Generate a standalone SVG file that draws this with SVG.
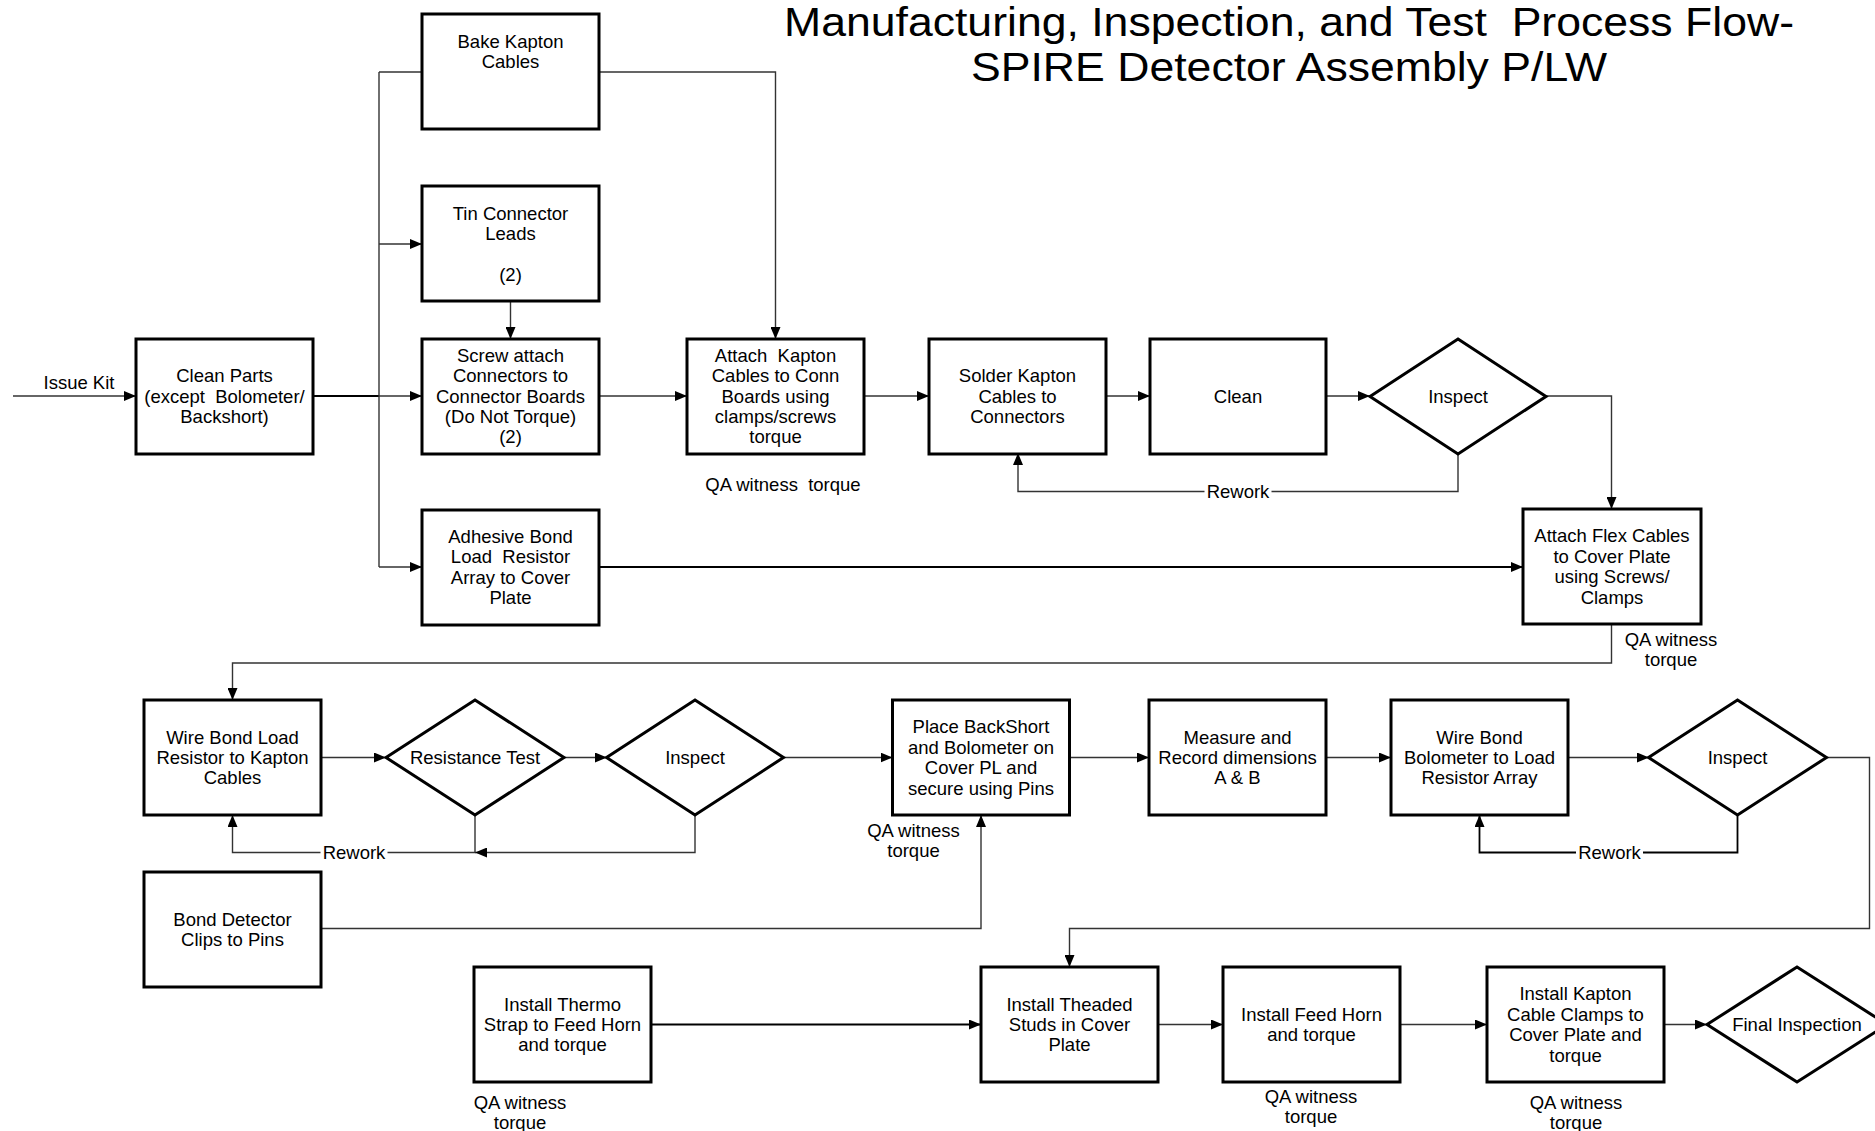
<svg xmlns="http://www.w3.org/2000/svg" width="1875" height="1131" viewBox="0 0 1875 1131">
  <style>
    text { font-family: "Liberation Sans", Arial, sans-serif; fill: #000; }
    .lbl { font-size: 18.5px; text-anchor: middle; }
    .ttl { font-size: 40px; text-anchor: middle; }
    .box { fill: #fff; stroke: #000; stroke-width: 3; }
    .dec { fill: #fff; stroke: #000; stroke-width: 3; stroke-linejoin: miter; }
    .cn { fill: none; stroke: #333; stroke-width: 1.4; }
    .cnd { fill: none; stroke: #000; stroke-width: 1.8; }
    .arr { marker-end: url(#ah); }
    .gap { fill: #fff; }
  </style>
  <defs>
    <marker id="ah" viewBox="0 0 12 10" refX="12" refY="5" markerWidth="12" markerHeight="10" markerUnits="userSpaceOnUse" orient="auto">
      <path d="M0,0 L12,5 L0,10 z" fill="#000"/>
    </marker>
  </defs>
  <rect width="1875" height="1131" fill="#fff"/>

  <!-- Title -->
  <g id="title">
    <text class="ttl" x="1289" y="36" textLength="1010" lengthAdjust="spacingAndGlyphs">Manufacturing, Inspection, and Test&#160; Process Flow-</text>
    <text class="ttl" x="1289" y="81" textLength="636" lengthAdjust="spacingAndGlyphs">SPIRE Detector Assembly P/LW</text>
  </g>

  <!-- Connectors -->
  <g id="connectors">
    <!-- Issue kit into cleaning -->
    <path class="cn arr" d="M13,396 H136"/>
    <text class="lbl" x="79" y="389">Issue Kit</text>
    <!-- Clean parts fan-out -->
    <path class="cnd" d="M313,396 H379"/>
    <path class="cn arr" d="M379,396 H422"/>
    <path class="cn" d="M379,72 V567"/>
    <path class="cn" d="M379,72 H422"/>
    <path class="cn arr" d="M379,244 H422"/>
    <path class="cn arr" d="M379,567 H422"/>
    <!-- Row 1 -->
    <path class="cn arr" d="M599,72 H775.5 V339"/>
    <path class="cn arr" d="M510.5,301 V339"/>
    <path class="cn arr" d="M599,396 H687"/>
    <path class="cn arr" d="M864,396 H929"/>
    <path class="cn arr" d="M1106,396 H1150"/>
    <path class="cn arr" d="M1326,396 H1370"/>
    <path class="cn arr" d="M1546,396 H1611.5 V509"/>
    <path class="cn arr" d="M1458,453.5 V491.5 H1018 V453"/>
    <rect class="gap" x="1204.5" y="481" width="67" height="21"/>
    <text class="lbl" x="1238" y="497.5">Rework</text>
    <path class="cnd arr" d="M599,567 H1523"/>
    <!-- Down to row 2 -->
    <path class="cn arr" d="M1611.5,624 V663 H232.5 V700"/>
    <!-- Row 2 -->
    <path class="cn arr" d="M320,757.5 H386"/>
    <path class="cn arr" d="M564,757.5 H607"/>
    <path class="cn arr" d="M783.5,757.5 H892.5"/>
    <path class="cn arr" d="M475,815 V852.5 H232.5 V815"/>
    <path class="cn arr" d="M695,815 V852.5 H475"/>
    <rect class="gap" x="320.5" y="842" width="67" height="21"/>
    <text class="lbl" x="354" y="859">Rework</text>
    <path class="cn arr" d="M1069.5,757.5 H1149"/>
    <path class="cn arr" d="M1326,757.5 H1391"/>
    <path class="cn arr" d="M1568,757.5 H1649"/>
    <path class="cnd arr" d="M1737.5,815 V852.5 H1479.5 V815"/>
    <rect class="gap" x="1576" y="842" width="67" height="21"/>
    <text class="lbl" x="1609.5" y="859">Rework</text>
    <!-- Down to row 3 -->
    <path class="cn arr" d="M1826.5,757.5 H1869.5 V928.5 H1069.5 V967"/>
    <path class="cn arr" d="M320,928.5 H981 V815"/>
    <!-- Row 3 -->
    <path class="cnd arr" d="M651,1024.5 H981"/>
    <path class="cn arr" d="M1158,1024.5 H1223"/>
    <path class="cn arr" d="M1400,1024.5 H1487"/>
    <path class="cn arr" d="M1664,1024.5 H1707"/>
  </g>

  <!-- Witness notes -->
  <g id="notes">
    <text class="lbl" x="783" y="490.5">QA witness&#160; torque</text>
    <text class="lbl" x="1671" y="645.5">QA witness<tspan x="1671" dy="20.4">torque</tspan></text>
    <text class="lbl" x="913.5" y="837">QA witness<tspan x="913.5" dy="20.4">torque</tspan></text>
    <text class="lbl" x="520" y="1109">QA witness<tspan x="520" dy="20.4">torque</tspan></text>
    <text class="lbl" x="1311" y="1103">QA witness<tspan x="1311" dy="20.4">torque</tspan></text>
    <text class="lbl" x="1576" y="1109">QA witness<tspan x="1576" dy="20.4">torque</tspan></text>
  </g>

  <!-- Row 1 steps -->
  <g id="bake-kapton">
    <rect class="box" x="422" y="14" width="177" height="115"/>
    <text class="lbl" x="510.5" y="47.5">Bake Kapton<tspan x="510.5" dy="20.4">Cables</tspan></text>
  </g>
  <g id="tin-leads">
    <rect class="box" x="422" y="186" width="177" height="115"/>
    <text class="lbl" x="510.5" y="219.5">Tin Connector<tspan x="510.5" dy="20.4">Leads</tspan><tspan x="510.5" dy="40.8">(2)</tspan></text>
  </g>
  <g id="clean-parts">
    <rect class="box" x="136" y="339" width="177" height="115"/>
    <text class="lbl" x="224.5" y="382.1">Clean Parts<tspan x="224.5" dy="20.4">(except&#160; Bolometer/</tspan><tspan x="224.5" dy="20.4">Backshort)</tspan></text>
  </g>
  <g id="screw-attach">
    <rect class="box" x="422" y="339" width="177" height="115"/>
    <text class="lbl" x="510.5" y="361.7">Screw attach<tspan x="510.5" dy="20.4">Connectors to</tspan><tspan x="510.5" dy="20.4">Connector Boards</tspan><tspan x="510.5" dy="20.4">(Do Not Torque)</tspan><tspan x="510.5" dy="20.4">(2)</tspan></text>
  </g>
  <g id="attach-kapton">
    <rect class="box" x="687" y="339" width="177" height="115"/>
    <text class="lbl" x="775.5" y="361.7">Attach&#160; Kapton<tspan x="775.5" dy="20.4">Cables to Conn</tspan><tspan x="775.5" dy="20.4">Boards using</tspan><tspan x="775.5" dy="20.4">clamps/screws</tspan><tspan x="775.5" dy="20.4">torque</tspan></text>
  </g>
  <g id="solder-kapton">
    <rect class="box" x="929" y="339" width="177" height="115"/>
    <text class="lbl" x="1017.5" y="382.1">Solder Kapton<tspan x="1017.5" dy="20.4">Cables to</tspan><tspan x="1017.5" dy="20.4">Connectors</tspan></text>
  </g>
  <g id="clean">
    <rect class="box" x="1150" y="339" width="176" height="115"/>
    <text class="lbl" x="1238" y="402.5">Clean</text>
  </g>
  <g id="inspect-1">
    <polygon class="dec" points="1458,339 1546,396.5 1458,454 1370,396.5"/>
    <text class="lbl" x="1458" y="402.5">Inspect</text>
  </g>
  <g id="adhesive-bond">
    <rect class="box" x="422" y="510" width="177" height="115"/>
    <text class="lbl" x="510.5" y="542.9">Adhesive Bond<tspan x="510.5" dy="20.4">Load&#160; Resistor</tspan><tspan x="510.5" dy="20.4">Array to Cover</tspan><tspan x="510.5" dy="20.4">Plate</tspan></text>
  </g>
  <g id="attach-flex">
    <rect class="box" x="1523" y="509" width="178" height="115"/>
    <text class="lbl" x="1612" y="542.4">Attach Flex Cables<tspan x="1612" dy="20.4">to Cover Plate</tspan><tspan x="1612" dy="20.4">using Screws/</tspan><tspan x="1612" dy="20.4">Clamps</tspan></text>
  </g>

  <!-- Row 2 steps -->
  <g id="wire-bond-load">
    <rect class="box" x="144" y="700" width="177" height="115"/>
    <text class="lbl" x="232.5" y="743.6">Wire Bond Load<tspan x="232.5" dy="20.4">Resistor to Kapton</tspan><tspan x="232.5" dy="20.4">Cables</tspan></text>
  </g>
  <g id="resistance-test">
    <polygon class="dec" points="475,700 564,757.5 475,815 386,757.5"/>
    <text class="lbl" x="475" y="764">Resistance Test</text>
  </g>
  <g id="inspect-2">
    <polygon class="dec" points="695,700 783.5,757.5 695,815 606.5,757.5"/>
    <text class="lbl" x="695" y="764">Inspect</text>
  </g>
  <g id="place-backshort">
    <rect class="box" x="892.5" y="700" width="177" height="115"/>
    <text class="lbl" x="981" y="733.4">Place BackShort<tspan x="981" dy="20.4">and Bolometer on</tspan><tspan x="981" dy="20.4">Cover PL and</tspan><tspan x="981" dy="20.4">secure using Pins</tspan></text>
  </g>
  <g id="measure">
    <rect class="box" x="1149" y="700" width="177" height="115"/>
    <text class="lbl" x="1237.5" y="743.6">Measure and<tspan x="1237.5" dy="20.4">Record dimensions</tspan><tspan x="1237.5" dy="20.4">A &amp; B</tspan></text>
  </g>
  <g id="wire-bond-bolometer">
    <rect class="box" x="1391" y="700" width="177" height="115"/>
    <text class="lbl" x="1479.5" y="743.6">Wire Bond<tspan x="1479.5" dy="20.4">Bolometer to Load</tspan><tspan x="1479.5" dy="20.4">Resistor Array</tspan></text>
  </g>
  <g id="inspect-3">
    <polygon class="dec" points="1737.5,700 1826.5,757.5 1737.5,815 1648.5,757.5"/>
    <text class="lbl" x="1737.5" y="764">Inspect</text>
  </g>
  <g id="bond-detector">
    <rect class="box" x="144" y="872" width="177" height="115"/>
    <text class="lbl" x="232.5" y="925.8">Bond Detector<tspan x="232.5" dy="20.4">Clips to Pins</tspan></text>
  </g>

  <!-- Row 3 steps -->
  <g id="install-thermo">
    <rect class="box" x="474" y="967" width="177" height="115"/>
    <text class="lbl" x="562.5" y="1010.6">Install Thermo<tspan x="562.5" dy="20.4">Strap to Feed Horn</tspan><tspan x="562.5" dy="20.4">and torque</tspan></text>
  </g>
  <g id="install-studs">
    <rect class="box" x="981" y="967" width="177" height="115"/>
    <text class="lbl" x="1069.5" y="1010.6">Install Theaded<tspan x="1069.5" dy="20.4">Studs in Cover</tspan><tspan x="1069.5" dy="20.4">Plate</tspan></text>
  </g>
  <g id="install-feed-horn">
    <rect class="box" x="1223" y="967" width="177" height="115"/>
    <text class="lbl" x="1311.5" y="1020.8">Install Feed Horn<tspan x="1311.5" dy="20.4">and torque</tspan></text>
  </g>
  <g id="install-cable-clamps">
    <rect class="box" x="1487" y="967" width="177" height="115"/>
    <text class="lbl" x="1575.5" y="1000.4">Install Kapton<tspan x="1575.5" dy="20.4">Cable Clamps to</tspan><tspan x="1575.5" dy="20.4">Cover Plate and</tspan><tspan x="1575.5" dy="20.4">torque</tspan></text>
  </g>
  <g id="final-inspection">
    <polygon class="dec" points="1797,967 1887,1024.5 1797,1082 1707,1024.5"/>
    <text class="lbl" x="1797" y="1031">Final Inspection</text>
  </g>
</svg>
